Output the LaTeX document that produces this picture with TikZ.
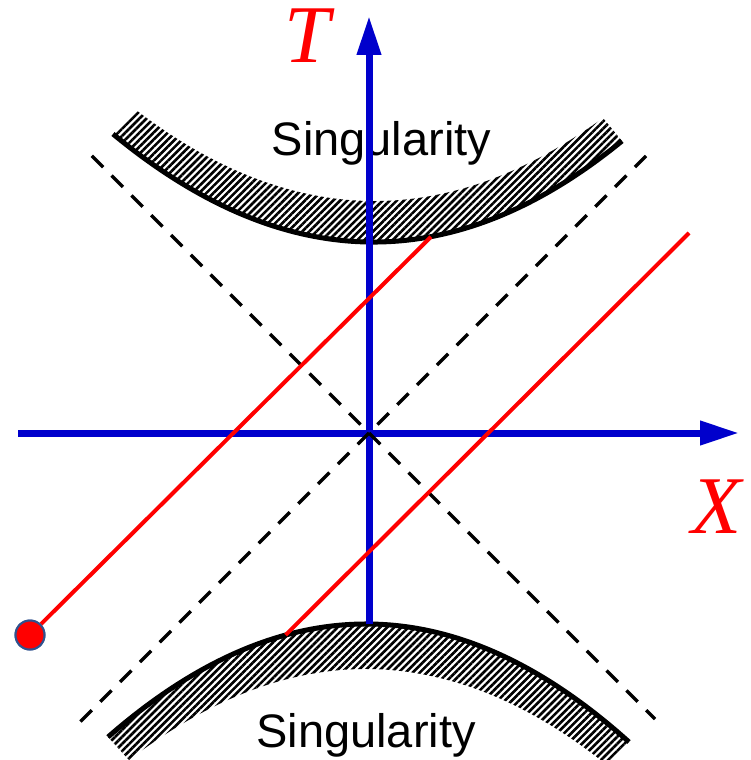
\documentclass[tikz,border=0pt]{standalone}
\usepackage{fontspec}
\setmainfont{Liberation Serif}
\newfontfamily\sanslab{Liberation Sans}
\usetikzlibrary{arrows.meta,patterns.meta}
\definecolor{axisblue}{RGB}{0,0,204}
\definecolor{dotedge}{RGB}{47,82,143}
\begin{document}
\begin{tikzpicture}[x=1pt,y=-1pt,
  axis/.style={line width=7pt, draw=axisblue, -{Triangle[length=39pt,width=23pt]}},
  cone/.style={line width=3.2pt, draw=black, dash pattern=on 16pt off 12pt},
  coneup/.style={cone, dash phase=16pt},
  worldline/.style={line width=4pt, draw=red},
  band/.style={pattern={Lines[angle=45,distance=5pt,line width=2.6pt]}},
  bandedge/.style={line width=5pt, draw=black},
  singlabel/.style={font=\sanslab\fontsize{47}{50}\selectfont, anchor=base, inner sep=0pt},
  axislabel/.style={font=\itshape\fontsize{82}{90}\selectfont, text=red, anchor=base, inner sep=0pt, text height=54pt, text depth=0pt},
  dotstyle/.style={circle, fill=red, draw=dotedge, line width=2pt, minimum size=29pt, inner sep=0pt}]
\useasboundingbox (0,0) rectangle (751,760);
\fill[white] (0,0) rectangle (751,760);
% coordinates
\coordinate (O) at (369,433);
\coordinate (Tbot) at (369,624);
\coordinate (Ttip) at (369,16);
\coordinate (Xleft) at (18,433);
\coordinate (Xtip) at (739,433);
\coordinate (Atl) at (87,151);
\coordinate (Abr) at (655,719);
\coordinate (Bbl) at (80,722);
\coordinate (Btr) at (646,156);
\coordinate (r1top) at (431,236.8);
\coordinate (r2bot) at (285.6,635);
\coordinate (r2top) at (689,233);
% singularity bands
\path[band] (113,134) .. controls (284.67,275.67) and (454.33,278) .. (622,141)
  -- (603,118) .. controls (446.67,231.33) and (291,228.67) .. (136,110) -- cycle;
\draw[bandedge] (113,134) .. controls (284.67,275.67) and (454.33,278) .. (622,141);
\path[band] (108,737) .. controls (282.33,584.67) and (456,586.33) .. (629,742)
  -- (607,765) .. controls (449,638.67) and (289.67,637) .. (129,760) -- cycle;
\draw[bandedge] (108,737) .. controls (282.33,584.67) and (456,586.33) .. (629,742);
\node[singlabel] (stop) at (381.5,155) {Singularity};
\node[singlabel] (sbot) at (366,747.5) {Singularity};
% axes
\draw[axis] (Tbot) -- (Ttip);
\draw[axis] (Xleft) -- (Xtip);
% light cone
\draw[cone] (O) -- (Abr);
\draw[cone] (O) -- (Bbl);
\draw[coneup] (O) -- (Atl);
\draw[coneup] (O) -- (Btr);
% world lines
\node[dotstyle] (dot) at (30,635) {};
\draw[worldline] (dot) -- (r1top);
\draw[worldline] (r2bot) -- (r2top);
\node[dotstyle] at (dot.center) {};
% labels
\node[axislabel] (Tlab) at (307,63) {T};
\node[axislabel] (Xlab) at (717,533) {X};
\end{tikzpicture}
\end{document}
